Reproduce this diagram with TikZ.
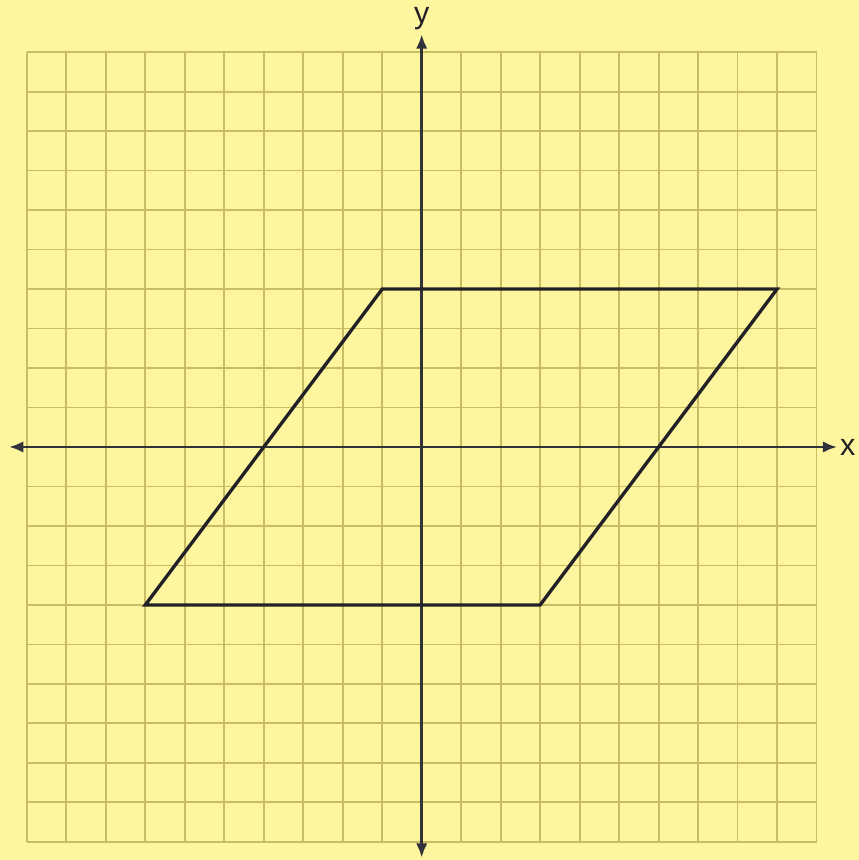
\documentclass[tikz,border=0pt]{standalone}
\usepackage{fontspec}
\setsansfont{Liberation Sans}
\usepackage{tikz}
\usetikzlibrary{arrows.meta,positioning}
\definecolor{padYellow}{RGB}{254,246,158}
\definecolor{padGrid}{RGB}{200,188,100}
\definecolor{axisGray}{RGB}{50,50,58}
\definecolor{shapeBlack}{RGB}{34,34,38}

\begin{document}
\begin{tikzpicture}[
  font=\sffamily\fontsize{22}{25}\selectfont,
  gridline/.style={draw=padGrid,line width=1.3pt},
  axis/.style={{Latex[length=3.6mm,width=2.9mm]}-{Latex[length=3.6mm,width=2.9mm]},line width=2pt,axisGray},
  figline/.style={line width=2.4pt,shapeBlack,line join=miter},
  axlabel/.style={inner sep=0pt,text=shapeBlack}
]
\fill[padYellow] (-10.68,-10.46) rectangle (11.07,11.32);
\useasboundingbox (-10.68,-10.46) rectangle (11.07,11.32);

% grid
\draw[gridline] (-10,-10) grid (10,10);

% axes
\coordinate (xl) at (-10.45,0);
\coordinate (xr) at (10.52,0);
\coordinate (yb) at (0,-10.4);
\coordinate (yt) at (0,10.45);
\draw[axis] (xl) -- (xr);
\draw[axis] (yb) -- (yt);
\node[axlabel,right=0.07cm of xr] (xlab) {x};
\node[axlabel,above=0.12cm of yt] (ylab) {y};

% parallelogram
\coordinate (pA) at (-1,4);
\coordinate (pB) at (9,4);
\coordinate (pC) at (3,-4);
\coordinate (pD) at (-7,-4);
\draw[figline] (pA) -- (pB) -- (pC) -- (pD) -- cycle;
\end{tikzpicture}
\end{document}
